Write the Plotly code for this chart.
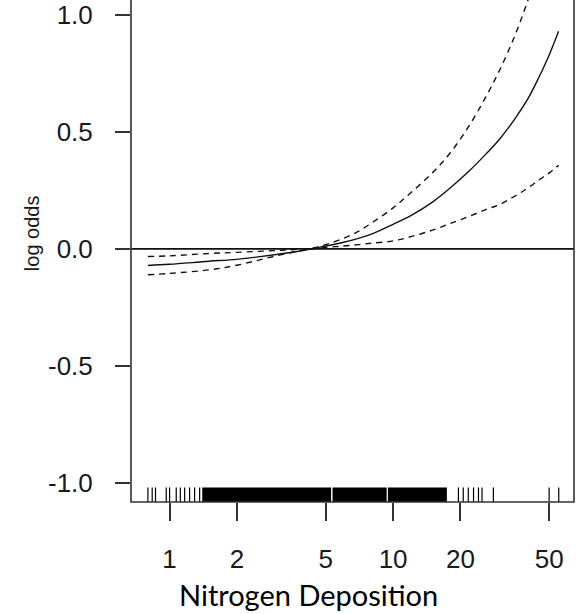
import plotly.graph_objects as go

# ---- data ----
nitrogen = [0.8, 1.0, 1.5, 2, 3, 4, 4.4, 5, 6, 7, 8, 10, 12, 15, 18, 22, 26, 30, 35, 40, 45, 50, 55]
fit = [-0.071, -0.066, -0.053, -0.045, -0.024, -0.006, 0.002, 0.012, 0.028, 0.045, 0.063,
       0.105, 0.142, 0.20, 0.26, 0.335, 0.405, 0.47, 0.555, 0.64, 0.735, 0.83, 0.93]
upper = [-0.033, -0.030, -0.020, -0.015, -0.007, 0.000, 0.004, 0.018, 0.045, 0.075, 0.11,
         0.175, 0.24, 0.325, 0.41, 0.53, 0.65, 0.765, 0.91, 1.06, 1.22, 1.37, 1.52]
lower = [-0.111, -0.105, -0.090, -0.070, -0.030, -0.005, 0.000, 0.006, 0.012, 0.018, 0.024,
         0.034, 0.052, 0.08, 0.108, 0.14, 0.168, 0.19, 0.225, 0.26, 0.295, 0.325, 0.357]

rug_single = [0.80, 0.836, 0.865, 0.966, 1.0, 1.071, 1.117, 1.168, 1.229, 1.294, 1.363,
              19.6, 20.6, 21.7, 22.9, 24.1, 25.0, 28.1, 49.9, 55.1]
rug_dense_spans = [(1.40, 5.28), (5.36, 9.36), (9.48, 17.4)]

x_ticks = [1, 2, 5, 10, 20, 50]
x_ticktext = ["1", "2", "5", "10", "20", "50"]
y_ticks = [-1.0, -0.5, 0.0, 0.5, 1.0]
y_ticktext = ["-1.0", "-0.5", "0.0", "0.5", "1.0"]

x_title = "Nitrogen Deposition"
y_title = "log odds"

# ---- figure ----
fig = go.Figure()
line_col = "#111111"
fig.add_trace(go.Scatter(x=nitrogen, y=upper, mode="lines", line_shape="spline",
                         line=dict(color=line_col, width=1.4, dash="6px,5px"), showlegend=False))
fig.add_trace(go.Scatter(x=nitrogen, y=lower, mode="lines", line_shape="spline",
                         line=dict(color=line_col, width=1.4, dash="6px,5px"), showlegend=False))
fig.add_trace(go.Scatter(x=nitrogen, y=fit, mode="lines", line_shape="spline",
                         line=dict(color=line_col, width=1.4), showlegend=False))

shapes = []
shapes.append(dict(type="line", xref="paper", yref="y", x0=0, x1=1, y0=0, y1=0,
                   line=dict(color="#111111", width=1.6)))
rug_h = 0.029
for v in rug_single:
    shapes.append(dict(type="line", xref="x", yref="paper", x0=v, x1=v, y0=0, y1=rug_h,
                       line=dict(color="black", width=1.2)))
for a, b in rug_dense_spans:
    shapes.append(dict(type="rect", xref="x", yref="paper", x0=a, x1=b, y0=0, y1=rug_h,
                       fillcolor="black", line=dict(width=0)))
shapes.append(dict(type="rect", xref="paper", yref="paper", x0=0, x1=1, y0=0, y1=1.03,
                   line=dict(color="#333333", width=1.6), fillcolor="rgba(0,0,0,0)"))

tick_font = dict(family="Arial", size=26, color="#1a1a1a")

fig.update_layout(
    width=581, height=614,
    margin=dict(l=131, r=7, t=0, b=112),
    paper_bgcolor="white", plot_bgcolor="white",
    font=dict(family="Arial", size=26, color="#1a1a1a"),
    shapes=shapes,
    xaxis=dict(type="log", range=[-0.1726, 1.8094], tickvals=x_ticks, ticktext=x_ticktext,
               ticks="outside", ticklen=18, tickwidth=1.6, tickcolor="#333333",
               showgrid=False, zeroline=False, showline=False,
               tickfont=tick_font, ticklabelstandoff=16),
    yaxis=dict(range=[-1.0825, 1.0641], tickvals=y_ticks, ticktext=y_ticktext,
               ticks="outside", ticklen=15, tickwidth=1.6, tickcolor="#333333",
               showgrid=False, zeroline=False, showline=False,
               tickfont=tick_font, ticklabelstandoff=17),
    annotations=[
        dict(text=x_title, xref="paper", yref="paper", x=0.4005, y=-0.1846,
             xanchor="center", yanchor="middle", showarrow=False,
             font=dict(family="Lato", size=29, color="black")),
        dict(text=y_title, xref="paper", yref="paper", x=-0.2229, y=0.536,
             xanchor="center", yanchor="middle", showarrow=False, textangle=-90,
             font=dict(family="Arial", size=20, color="#1a1a1a")),
    ],
)

fig.write_html("out.html")
